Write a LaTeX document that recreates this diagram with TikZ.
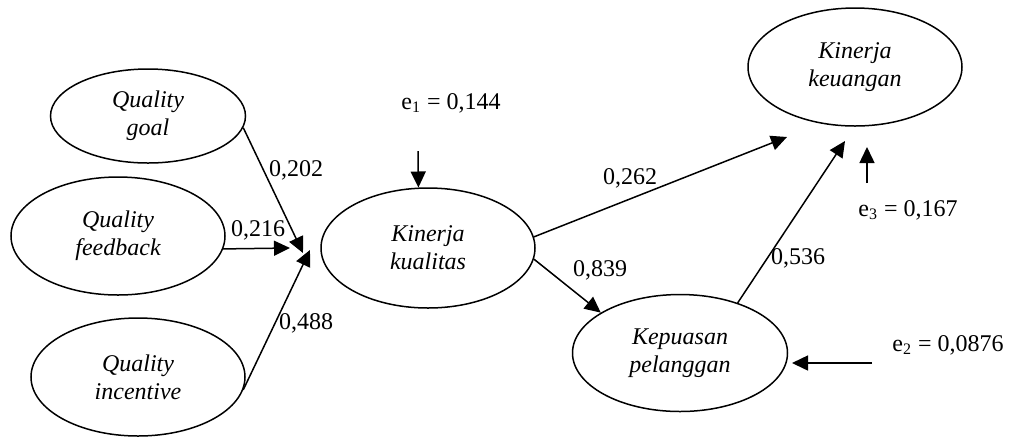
\documentclass[tikz,border=0pt]{standalone}
\usepackage{fontspec}
\setmainfont{Liberation Serif}
\usetikzlibrary{shapes.geometric, arrows.meta}
\tikzset{
  latent/.style={ellipse, draw, line width=.75pt, inner sep=0pt,
    minimum width=107pt, minimum height=59pt, align=center,
    font=\fontsize{12}{14}\selectfont\itshape},
  effect/.style={line width=.75pt, -{Triangle[length=8pt,width=7.5pt]}},
  coef/.style={inner sep=0pt, font=\fontsize{12}{14}\selectfont},
}
\begin{document}
\begin{tikzpicture}[x=.5pt, y=-.5pt]
    \useasboundingbox (0,0) rectangle (1013,436);
    \node[latent, minimum width=97.5pt, minimum height=47pt] (goal) at (148,116) {Quality\\goal};
    \node[latent] (feedback) at (118,236) {Quality\\feedback};
    \node[latent] (incentive) at (138,377) {Quality\\incentive};
    \node[latent, minimum height=60pt] (kualitas) at (428,248) {Kinerja\\kualitas};
    \node[latent] (keuangan) at (855,67) {Kinerja\\keuangan};
    \node[latent, minimum width=107.5pt, minimum height=58.5pt] (kepuasan) at (680,353) {Kepuasan\\pelanggan};
    \coordinate (goalTip) at (303,253);
    \coordinate (feedbackTip) at (290,248);
    \coordinate (incentiveTip) at (310,250);
    \coordinate (kualitasTip) at (787,137);
    \coordinate (kepuasanTip) at (845,141);
    \coordinate (eOneTail) at (418,151);
    \coordinate (eTwoTail) at (872,363);
    \coordinate (eTwoTip) at (792,363);
    \coordinate (eThreeTail) at (867,183);
    \coordinate (eThreeTip) at (867,147);
    \draw[effect] (goal.-7) -- (goalTip);
    \draw[effect] (feedback.-7) -- (feedbackTip);
    \draw[effect] (incentive.-7) -- (incentiveTip);
    \draw[effect] (kualitas.6) -- (kualitasTip);
    \draw[effect] (kualitas.-6) -- (kepuasan.153);
    \draw[effect] (kepuasan.41) -- (kepuasanTip);
    \draw[effect] (eOneTail) -- (kualitas.99);
    \draw[effect] (eTwoTail) -- (eTwoTip);
    \draw[effect] (eThreeTail) -- (eThreeTip);
    \node[coef] (cGoal) at (296,170) {0,202};
    \node[coef] (cFeedback) at (258,230) {0,216};
    \node[coef] (cIncentive) at (306,323) {0,488};
    \node[coef] (cKeuangan) at (630,178) {0,262};
    \node[coef] (cKepuasan) at (600,270) {0,839};
    \node[coef] (cPelanggan) at (798,258) {0,536};
    \node[coef] (eOne) at (451,103) {e\textsubscript{1} = 0,144};
    \node[coef] (eTwo) at (948,345) {e\textsubscript{2} = 0,0876};
    \node[coef] (eThree) at (908,210) {e\textsubscript{3} = 0,167};
\end{tikzpicture}
\end{document}
